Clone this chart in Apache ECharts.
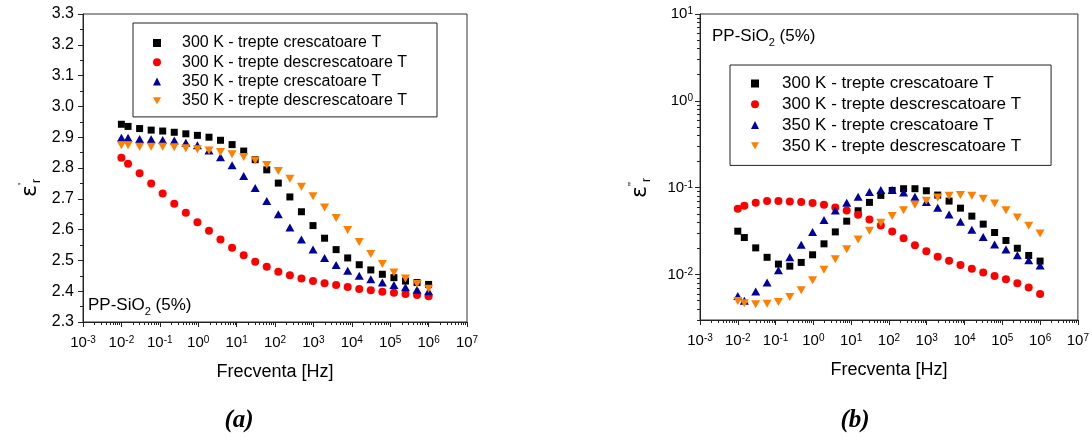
<!DOCTYPE html>
<html><head><meta charset="utf-8">
<script src="https://cdn.jsdelivr.net/npm/echarts@6/dist/echarts.min.js"></script>
<style>html,body{margin:0;padding:0;background:#fff}#c{width:1092px;height:437px}</style>
</head><body><div id="c"></div>
<script>
// Frequencies [Hz]
const freq = [0.01, 0.0149, 0.0298, 0.0596, 0.119, 0.238, 0.477, 0.954, 1.91, 3.81, 7.63, 15.3, 30.5, 61.0, 122, 244, 488, 977, 1953, 3906, 7813, 15625, 31250, 62500, 125000, 250000, 500000, 1000000];
const seriesNames = ['300 K - trepte crescatoare T', '300 K - trepte descrescatoare T', '350 K - trepte crescatoare T', '350 K - trepte descrescatoare T'];
// (a) real part eps'r
const epsR_300up   = [2.942, 2.935, 2.928, 2.923, 2.920, 2.916, 2.911, 2.906, 2.900, 2.890, 2.876, 2.855, 2.827, 2.794, 2.751, 2.706, 2.658, 2.613, 2.572, 2.535, 2.508, 2.486, 2.469, 2.455, 2.444, 2.433, 2.428, 2.422];
const epsR_300down = [2.833, 2.814, 2.783, 2.750, 2.717, 2.684, 2.655, 2.624, 2.596, 2.568, 2.541, 2.517, 2.496, 2.479, 2.463, 2.452, 2.441, 2.433, 2.426, 2.420, 2.414, 2.407, 2.403, 2.398, 2.395, 2.391, 2.388, 2.384];
const epsR_350up   = [2.898, 2.898, 2.894, 2.893, 2.891, 2.889, 2.882, 2.874, 2.857, 2.835, 2.809, 2.774, 2.735, 2.693, 2.650, 2.607, 2.568, 2.535, 2.508, 2.485, 2.466, 2.450, 2.439, 2.428, 2.420, 2.413, 2.405, 2.400];
const epsR_350down = [2.874, 2.874, 2.869, 2.869, 2.869, 2.867, 2.864, 2.861, 2.857, 2.852, 2.845, 2.836, 2.824, 2.810, 2.790, 2.765, 2.739, 2.708, 2.672, 2.638, 2.599, 2.560, 2.521, 2.488, 2.461, 2.441, 2.423, 2.408];
// (b) imaginary part eps''r
const epsI_300up   = [0.0316, 0.0267, 0.0203, 0.0158, 0.0132, 0.0125, 0.0138, 0.0169, 0.0226, 0.0310, 0.0412, 0.0543, 0.0678, 0.0816, 0.0931, 0.0974, 0.0974, 0.0923, 0.0823, 0.0702, 0.0582, 0.0471, 0.0381, 0.0305, 0.0247, 0.0201, 0.0166, 0.0143];
const epsI_300down = [0.0573, 0.0620, 0.0672, 0.0702, 0.0702, 0.0695, 0.0684, 0.0666, 0.0636, 0.0593, 0.0547, 0.0488, 0.0431, 0.0367, 0.0313, 0.0262, 0.0218, 0.0186, 0.0160, 0.0144, 0.0129, 0.0117, 0.0106, 0.00966, 0.00884, 0.00794, 0.00708, 0.00598];
const epsI_350up   = [0.00568, 0.00501, 0.00637, 0.00809, 0.0112, 0.0158, 0.0220, 0.0310, 0.0424, 0.0547, 0.0672, 0.0787, 0.0891, 0.0940, 0.0940, 0.0883, 0.0787, 0.0684, 0.0588, 0.0492, 0.0405, 0.0328, 0.0270, 0.0222, 0.0194, 0.0167, 0.0146, 0.0127];
const epsI_350down = [0.00497, 0.00467, 0.00455, 0.00463, 0.00484, 0.00553, 0.00660, 0.00861, 0.0114, 0.0150, 0.0196, 0.0253, 0.0319, 0.0395, 0.0471, 0.0552, 0.0636, 0.0708, 0.0773, 0.0809, 0.0823, 0.0809, 0.0747, 0.0659, 0.0552, 0.0455, 0.0365, 0.0297];
// axis ticks
const xMajorTicks = [1e-3, 1e-2, 1e-1, 1, 1e1, 1e2, 1e3, 1e4, 1e5, 1e6, 1e7];
const yLogMajorTicks = [0.01, 0.1, 1, 10];
const sampleLabel = 'PP-SiO';

function minorLog(kFrom, kTo, mFrom) {
  const out = [];
  for (let k = kFrom; k <= kTo; k++) for (let m = 2; m <= 9; m++) {
    if (k === kFrom && m < mFrom) continue;
    out.push(parseFloat((m * Math.pow(10, k)).toPrecision(6)));
  }
  return out;
}
const xMinorTicks = minorLog(-3, 6, 2);
const yLogMinorTicks = minorLog(-3, 0, 3);

const FONT = 'Liberation Sans, Arial, sans-serif';
const INV_TRI = 'path://M0,0L10,0L5,9Z';
const colors = ['#000000', '#ff0000', '#00009c', '#ff8000'];
const symbols = ['rect', 'circle', 'triangle', INV_TRI];
const symSize = [7, 8, [9, 8], [9, 8]];

const expLabel = v => '{b|10}{s|' + Math.round(Math.log10(v)) + '}';
const expRich = { b: { fontSize: 15, fontFamily: FONT, color: '#000' }, s: { fontSize: 10, fontFamily: FONT, color: '#000', verticalAlign: 'top', lineHeight: 15 } };

function logX(grid, major) {
  return {
    type: 'log', gridIndex: grid, min: 1e-3, max: 1e7, position: 'bottom',
    splitLine: { show: false },
    axisLine: { show: major, lineStyle: { color: '#222', width: 1 } },
    axisTick: { show: true, length: major ? 5 : 3, customValues: major ? xMajorTicks : xMinorTicks, lineStyle: { color: '#222' } },
    axisLabel: { show: major, customValues: xMajorTicks, formatter: expLabel, rich: expRich, margin: 13 },
    name: major ? 'Frecventa [Hz]' : '', nameLocation: 'middle', nameGap: 41,
    nameTextStyle: { fontSize: 18, fontFamily: FONT, color: '#000' }
  };
}
function logY(grid, major) {
  return {
    type: 'log', gridIndex: grid, min: 0.003, max: 10, position: 'left',
    splitLine: { show: false },
    axisLine: { show: major, lineStyle: { color: '#222', width: 1 } },
    axisTick: { show: true, length: major ? 5 : 3, customValues: major ? yLogMajorTicks : yLogMinorTicks, lineStyle: { color: '#222' } },
    axisLabel: { show: major, customValues: yLogMajorTicks, formatter: expLabel, rich: expRich, margin: 7 }
  };
}

const series = [];
const dataA = [epsR_300up, epsR_300down, epsR_350up, epsR_350down];
const dataB = [epsI_300up, epsI_300down, epsI_350up, epsI_350down];
dataA.forEach((vals, i) => series.push({
  type: 'scatter', name: seriesNames[i], xAxisIndex: 0, yAxisIndex: 0,
  symbol: symbols[i], symbolSize: symSize[i], symbolKeepAspect: false,
  itemStyle: { color: colors[i], opacity: 1 }, data: freq.map((f, j) => [f, vals[j]])
}));
dataB.forEach((vals, i) => series.push({
  type: 'scatter', name: seriesNames[i], xAxisIndex: 2, yAxisIndex: 1,
  symbol: symbols[i], symbolSize: symSize[i], symbolKeepAspect: false,
  itemStyle: { color: colors[i], opacity: 1 }, data: freq.map((f, j) => [f, vals[j]])
}));

const legendData = seriesNames.map((n, i) => ({ name: n, icon: symbols[i] }));
const legendBase = {
  orient: 'vertical', selectedMode: false, borderColor: '#222', borderWidth: 1, borderRadius: 0,
  data: legendData, itemWidth: 8, itemHeight: 8, itemStyle: { opacity: 1 }
};

const chart = echarts.init(document.getElementById('c'), null, { renderer: 'canvas' });
chart.setOption({
  animation: false,
  backgroundColor: '#fff',
  textStyle: { fontFamily: FONT },
  grid: [
    { left: 83, top: 14, width: 384, height: 308, show: true, borderColor: '#333', borderWidth: 1, backgroundColor: 'transparent' },
    { left: 700, top: 14, width: 380, height: 306, show: true, borderColor: '#333', borderWidth: 1, backgroundColor: 'transparent' }
  ],
  xAxis: [logX(0, true), logX(0, false), logX(1, true), logX(1, false)],
  yAxis: [
    {
      type: 'value', gridIndex: 0, min: 2.3, max: 3.3, interval: 0.1, position: 'left',
      splitLine: { show: false },
      axisLine: { show: true, lineStyle: { color: '#222', width: 1 } },
      axisTick: { show: true, length: 5, lineStyle: { color: '#222' } },
      minorTick: { show: true, splitNumber: 2, length: 3, lineStyle: { color: '#222' } },
      axisLabel: { formatter: v => v.toFixed(1), fontSize: 16, color: '#000', fontFamily: FONT, margin: 9 }
    },
    logY(1, true), logY(1, false)
  ],
  legend: [
    Object.assign({}, legendBase, { left: 133, top: 23, itemGap: 3.3, padding: [12, 30, 8, 20],
      textStyle: { fontSize: 16, fontFamily: FONT, color: '#000', padding: [0, 0, 0, 16] } }),
    Object.assign({}, legendBase, { left: 730, top: 65, itemGap: 3.8, padding: [10, 30, 11, 21],
      textStyle: { fontSize: 17, fontFamily: FONT, color: '#000', padding: [0, 0, 0, 18] } })
  ],
  graphic: [
    { type: 'text', x: 88, y: 305, style: { text: '{a|' + sampleLabel + '}{s|2}{a| (5%)}', textVerticalAlign: 'middle',
      rich: { a: { fontSize: 17, fontFamily: FONT, fill: '#000' }, s: { fontSize: 11, fontFamily: FONT, fill: '#000', verticalAlign: 'bottom', lineHeight: 24 } } } },
    { type: 'text', x: 712, y: 36, style: { text: '{a|' + sampleLabel + '}{s|2}{a| (5%)}', textVerticalAlign: 'middle',
      rich: { a: { fontSize: 17, fontFamily: FONT, fill: '#000' }, s: { fontSize: 11, fontFamily: FONT, fill: '#000', verticalAlign: 'bottom', lineHeight: 24 } } } },
    { type: 'text', x: 30, y: 188, rotation: Math.PI / 2, style: { text: '{e|ε}{p|\'}{r|r}', textAlign: 'center', textVerticalAlign: 'middle',
      rich: { e: { fontSize: 22, fontFamily: 'DejaVu Sans', fill: '#000', lineHeight: 26 }, p: { fontSize: 11, fontFamily: FONT, fill: '#000', verticalAlign: 'top', lineHeight: 26 }, r: { fontSize: 12, fontFamily: FONT, fill: '#000', verticalAlign: 'bottom', lineHeight: 26 } } } },
    { type: 'text', x: 640, y: 188, rotation: Math.PI / 2, style: { text: '{e|ε}{p|"}{r|r}', textAlign: 'center', textVerticalAlign: 'middle',
      rich: { e: { fontSize: 22, fontFamily: 'DejaVu Sans', fill: '#000', lineHeight: 26 }, p: { fontSize: 11, fontFamily: FONT, fill: '#000', verticalAlign: 'top', lineHeight: 26 }, r: { fontSize: 12, fontFamily: FONT, fill: '#000', verticalAlign: 'bottom', lineHeight: 26 } } } },
    { type: 'text', x: 239, y: 421, style: { text: '(a)', textAlign: 'center', textVerticalAlign: 'middle', font: 'italic bold 25px "Liberation Serif", "Times New Roman", serif', fill: '#000' } },
    { type: 'text', x: 855, y: 421, style: { text: '(b)', textAlign: 'center', textVerticalAlign: 'middle', font: 'italic bold 25px "Liberation Serif", "Times New Roman", serif', fill: '#000' } }
  ],
  series: series
});
</script>
</body></html>
